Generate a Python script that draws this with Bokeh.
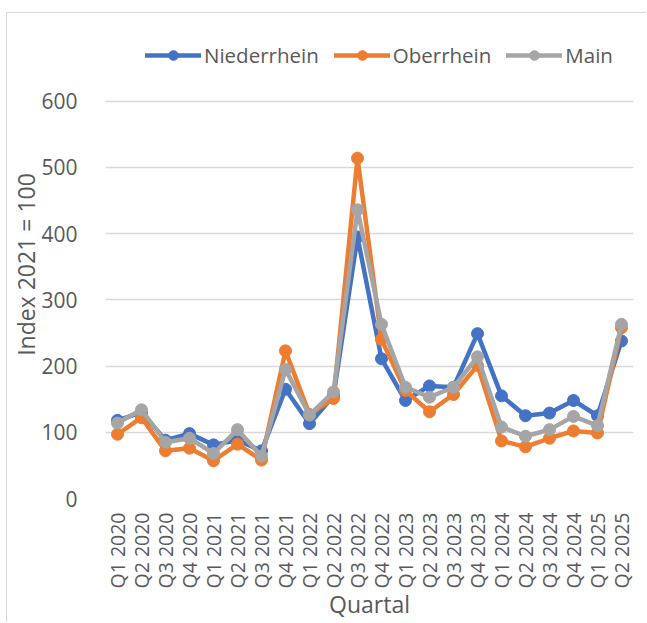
import math
from bokeh.plotting import figure
from bokeh.models import FactorRange, Range1d, Legend, LegendItem, FixedTicker
from bokeh.embed import file_html
from bokeh.resources import INLINE

quarters = ["Q1 2020", "Q2 2020", "Q3 2020", "Q4 2020",
            "Q1 2021", "Q2 2021", "Q3 2021", "Q4 2021",
            "Q1 2022", "Q2 2022", "Q3 2022", "Q4 2022",
            "Q1 2023", "Q2 2023", "Q3 2023", "Q4 2023",
            "Q1 2024", "Q2 2024", "Q3 2024", "Q4 2024",
            "Q1 2025", "Q2 2025"]
niederrhein = [118, 130, 88, 98, 81, 88, 72, 165, 113, 155, 395, 211,
               148, 170, 168, 249, 155, 125, 129, 148, 125, 238]
oberrhein = [97, 122, 72, 76, 57, 82, 58, 223, 127, 151, 514, 240,
             163, 131, 157, 201, 87, 78, 91, 102, 99, 258]
main = [114, 134, 85, 91, 68, 104, 64, 195, 126, 161, 436, 263,
        168, 153, 168, 214, 108, 94, 104, 124, 110, 263]
y_ticks = [0, 100, 200, 300, 400, 500, 600]

FONT = "Open Sans"
TXT = "#595959"

# frame extends above the 600 gridline to leave room for the legend
p = figure(x_range=FactorRange(factors=quarters, range_padding=0),
           y_range=Range1d(0, 706.8),
           width=640, height=610,
           output_backend="svg", toolbar_location=None,
           min_border_left=98, min_border_right=14,
           min_border_top=17, min_border_bottom=123)
p.outline_line_color = None
p.styles = {"margin-left": "6px", "margin-top": "12px",
            "border-left": "1px solid #D9D9D9", "border-top": "1px solid #D9D9D9"}

series = [("Niederrhein", niederrhein, "#4472C4"),
          ("Oberrhein", oberrhein, "#ED7D31"),
          ("Main", main, "#A5A5A5")]
items = []
for name, vals, col in series:
    l = p.line(quarters, vals, line_color=col, line_width=4.5, line_join="round", line_cap="round")
    s = p.scatter(quarters, vals, size=12, fill_color=col, line_color=col)
    items.append(LegendItem(label=name, renderers=[l, s]))

legend = Legend(items=items, orientation="horizontal", location=(40, 429),
                padding=0, margin=0, spacing=15, glyph_width=56, glyph_height=24,
                label_height=24, label_standoff=3, label_text_font=FONT,
                label_text_font_size="20.5px", label_text_color=TXT,
                border_line_color=None, background_fill_alpha=0)
p.add_layout(legend, "center")

p.yaxis.ticker = FixedTicker(ticks=y_ticks)
for ax in (p.xaxis[0], p.yaxis[0]):
    ax.axis_line_color = None
    ax.major_tick_line_color = None
    ax.minor_tick_line_color = None
    ax.major_label_text_font = FONT
    ax.major_label_text_color = TXT
    ax.axis_label_text_font = FONT
    ax.axis_label_text_font_size = "23px"
    ax.axis_label_text_color = TXT
    ax.axis_label_text_font_style = "normal"

p.yaxis.major_label_text_font_size = "21px"
p.xaxis.major_label_text_font_size = "19.5px"

p.yaxis.axis_label = "Index 2021 = 100"
p.yaxis.major_label_standoff = 22
p.yaxis.axis_label_standoff = -4
p.xaxis.axis_label = "Quartal"
p.xaxis.major_label_orientation = math.pi / 2
p.xaxis.major_label_standoff = 8
p.xaxis.axis_label_standoff = -3

p.xgrid.grid_line_color = None
p.ygrid.grid_line_color = "#D9D9D9"
p.ygrid.grid_line_width = 1.5

open("out.html", "w").write(file_html(p, INLINE))
